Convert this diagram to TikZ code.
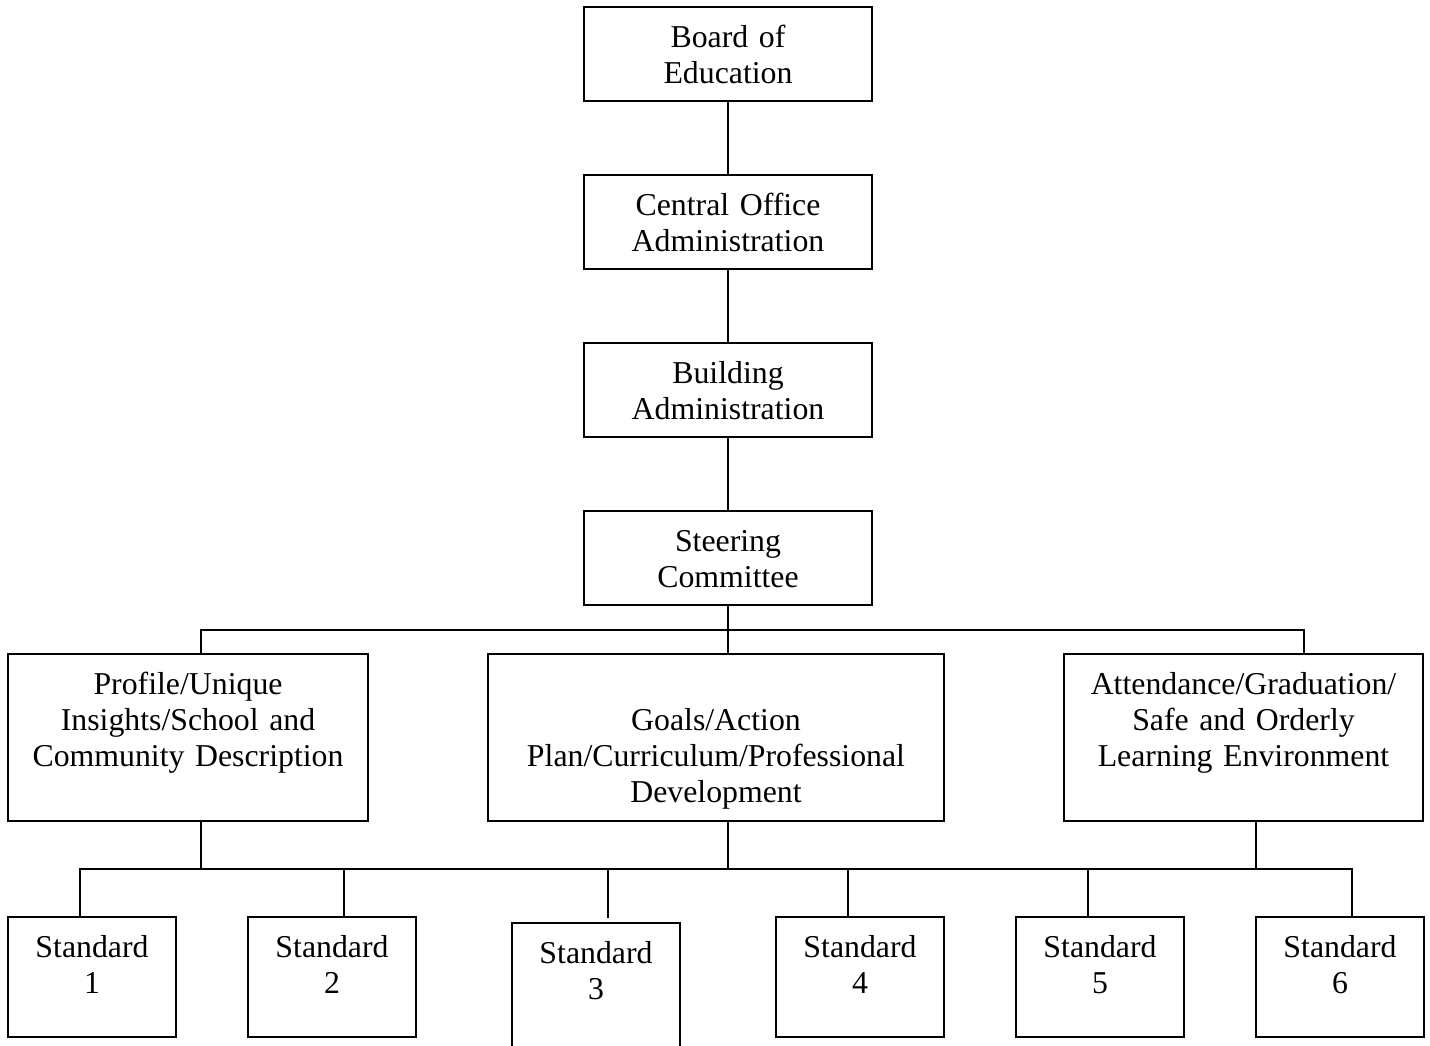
\documentclass[tikz,border=0pt]{standalone}
\usepackage{fontspec}
\setmainfont{Liberation Serif}
\usetikzlibrary{positioning,calc}

\tikzset{rect/.style={
    draw,
    rectangle,
    line width=1pt,
    inner sep=0pt,
    outer sep=0pt,
    anchor=north west,
    align=center,
    text height=20pt,
    font=\fontsize{15.9}{18}\selectfont,
  }}
\tikzset{link/.style={line width=1pt,line cap=rect}}

\begin{document}
\begin{tikzpicture}[x=0.5pt,y=-0.5pt]
        \useasboundingbox (0,0) rectangle (1430,1045);
        \clip (0,0) rectangle (1430,1045);

        % chain of command
        \node (board) [rect,text width=144pt,text depth=27pt] at (584,7) {Board of\\Education};
        \node (central) [rect,text width=144pt,text depth=27pt,below=37pt of board] {Central Office\\Administration};
        \node (building) [rect,text width=144pt,text depth=27pt,below=37pt of central] {Building\\Administration};
        \node (steer) [rect,text width=144pt,text depth=27pt,below=37pt of building] {Steering\\Committee};

        \draw [link] (board) -- (central);
        \draw [link] (central) -- (building);
        \draw [link] (building) -- (steer);

        % committees
        \node (profile) [rect,text width=180pt,text depth=63.5pt] at (8,654)
        {Profile/Unique\\Insights/School and\\Community Description};
        \node (goals) [rect,text width=228pt,text height=38pt,text depth=45.5pt] at (488,654)
        {Goals/Action\\Plan/Curriculum/Professional\\Development};
        \node (attend) [rect,text width=179.5pt,text depth=63.5pt] at (1064,654)
        {Attendance/Graduation/\\Safe and Orderly\\Learning Environment};

        \coordinate (topl) at (201,630);
        \coordinate (topr) at (1304,630);
        \draw [link] (topl) -- (topr);
        \draw [link] (topl) -- (topl |- profile.north);
        \draw [link] (topr) -- (topr |- attend.north);
        \draw [link] (steer.south) -- (steer.south |- goals.north);

        % standards
        \foreach \x/\n in {8/1,248/2,776/4,1016/5,1256/6}
          \node (std\n) [rect,text width=84pt,text depth=40pt] at (\x,917) {Standard\\\n};
        \node (std3) [rect,text width=84pt,text depth=42.5pt] at (512,923) {Standard\\3};

        \coordinate (botl) at (80,869);
        \coordinate (botr) at (1352,869);
        \coordinate (attl) at (1256,869);
        \draw [link] (botl) -- (botr);
        \draw [link] (topl |- profile.south) -- (topl |- botl);
        \draw [link] (steer.south |- goals.south) -- (steer.south |- botl);
        \draw [link] (attl |- attend.south) -- (attl);

        \foreach \x in {80,344,608,848,1088,1352}
          \draw [link] (\x,0 |- botl) -- (\x,0 |- std1.north);
\end{tikzpicture}
\end{document}
